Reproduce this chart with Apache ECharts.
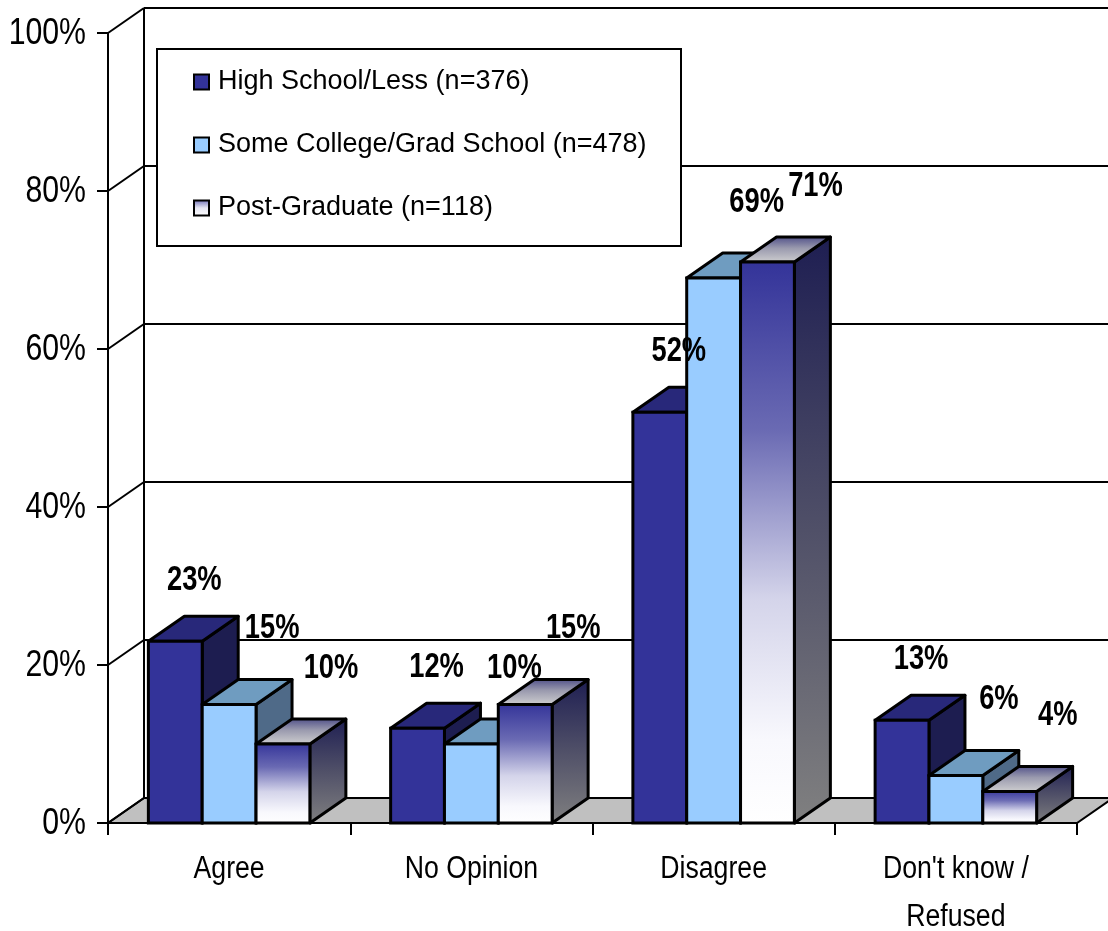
<!DOCTYPE html>
<html><head><meta charset="utf-8">
<script src="https://cdn.jsdelivr.net/npm/echarts@6/dist/echarts.min.js"></script>
<style>html,body{margin:0;padding:0;background:#fff}#c{width:1108px;height:931px}</style>
</head><body><div id="c"></div>
<script>
// ---- data ----
const categories = ['Agree', 'No Opinion', 'Disagree', "Don't know /\nRefused"];
const seriesNames = ['High School/Less (n=376)', 'Some College/Grad School (n=478)', 'Post-Graduate (n=118)'];
const highSchool = [23, 12, 52, 13];
const someCollege = [15, 10, 69, 6];
const postGrad = [10, 15, 71, 4];
const yTicks = [0, 20, 40, 60, 80, 100];

// ---- style ----
const DX = 36, DY = -25;
const FONT = '"Liberation Sans",Arial,sans-serif';
const LW = 3;
function lg(x, y, x2, y2, stops) {
  return {type: 'linear', x: x, y: y, x2: x2, y2: y2, colorStops: stops.map(s => ({offset: s[0], color: s[1]}))};
}
const faces = [
  {front: '#333399', top: '#28287a', side: '#1d1d50'},
  {front: '#99ccff', top: '#6f9cc0', side: '#4f6a88'},
  {
    front: lg(0, 0, 0, 1, [[0, '#333399'], [0.3, '#6a6ab3'], [0.6, '#d4d4ea'], [0.85, '#f8f8fd'], [1, '#ffffff']]),
    top: lg(0, 0, 0, 1, [[0, '#4a4a86'], [0.45, '#9a9aae'], [1, '#d2d2d2']]),
    side: lg(0, 0, 0, 1, [[0, '#1e1e52'], [0.5, '#505068'], [1, '#808080']])
  }
];
const labelOffset = [[19, -61], [43, -76], [48, -76]];
const valuesBySeries = [highSchool, someCollege, postGrad];

function barRender(idx) {
  return function (params, api) {
    const cat = api.value(0), val = api.value(1);
    const top = api.coord([cat, val]);
    const base = api.coord([cat, 0]);
    const band = api.size([1, 0])[0];
    const w = band * 2 / 9;
    const x0 = top[0] - 1.5 * w + idx * w, x1 = x0 + w;
    const yT = top[1], yB = base[1];
    const f = faces[idx];
    return {type: 'group', children: [
      {type: 'polygon', shape: {points: [[x1, yT], [x1 + DX, yT + DY], [x1 + DX, yB + DY], [x1, yB]]},
        style: {fill: f.side, stroke: '#000', lineWidth: LW, lineJoin: 'round'}},
      {type: 'polygon', shape: {points: [[x0, yT], [x1, yT], [x1 + DX, yT + DY], [x0 + DX, yT + DY]]},
        style: {fill: f.top, stroke: '#000', lineWidth: LW, lineJoin: 'round'}},
      {type: 'rect', shape: {x: x0, y: yT, width: w, height: yB - yT},
        style: {fill: f.front, stroke: '#000', lineWidth: LW}}
    ]};
  };
}

function frameRender(params, api) {
  const cs = params.coordSys;
  const L = cs.x, R = cs.x + cs.width;
  const v = api.value(1);
  const y = api.coord([0, v])[1];
  const ch = [];
  if (v === 0) {
    ch.push({type: 'polygon', shape: {points: [[L, y], [R, y], [R + DX, y + DY], [L + DX, y + DY]]},
      style: {fill: '#c0c0c0', stroke: '#000', lineWidth: 2}});
  }
  if (v === 100) {
    const y0 = api.coord([0, 0])[1];
    ch.push({type: 'line', shape: {x1: L + DX, y1: y + DY, x2: L + DX, y2: y0 + DY}, style: {stroke: '#000', lineWidth: 2}});
  }
  ch.push({type: 'line', shape: {x1: L, y1: y, x2: L + DX, y2: y + DY}, style: {stroke: '#000', lineWidth: 2}});
  ch.push({type: 'line', shape: {x1: L + DX, y1: y + DY, x2: R + DX + 60, y2: y + DY}, style: {stroke: '#000', lineWidth: 2}});
  // y tick label (narrow look)
  ch.push({type: 'text', x: L - 22, y: y + 1, scaleX: 0.84,
    style: {text: v + '%', fill: '#000', font: '36px ' + FONT, align: 'right', verticalAlign: 'middle'}});
  return {type: 'group', children: ch};
}

function catLabelRender(params, api) {
  const c = api.value(0);
  const p = api.coord([c, 0]);
  return {type: 'text', x: p[0], y: p[1] + 22, scaleX: 0.86,
    style: {text: categories[c], fill: '#000', font: '31px ' + FONT, lineHeight: 48, align: 'center', verticalAlign: 'top'}};
}

function labelRender(params, api) {
  const cat = api.value(0), val = api.value(1), s = api.value(2);
  const top = api.coord([cat, val]);
  const band = api.size([1, 0])[0];
  const w = band * 2 / 9;
  const cx = top[0] - 1.5 * w + s * w + w / 2;
  return {type: 'text', x: cx + labelOffset[s][0], y: top[1] + labelOffset[s][1], scaleX: 0.78,
    style: {text: val + '%', fill: '#000', font: 'bold 35px ' + FONT, align: 'center', verticalAlign: 'middle'}};
}

const labelData = [];
valuesBySeries.forEach((arr, s) => arr.forEach((v, c) => labelData.push([c, v, s])));

const series = [{
  type: 'custom', name: 'frame', z: 1, silent: true,
  data: yTicks.map(v => [0, v]), renderItem: frameRender
}, {
  type: 'custom', name: 'categoryLabels', z: 1, silent: true,
  data: categories.map((c, i) => [i, 0]), renderItem: catLabelRender
}];
valuesBySeries.forEach((arr, i) => {
  series.push({
    type: 'custom', name: seriesNames[i], z: 3,
    itemStyle: {color: i === 2 ? '#ccccee' : faces[i].front},
    data: arr.map((v, c) => [c, v]), renderItem: barRender(i)
  });
});
series.push({type: 'custom', name: 'labels', z: 5, silent: true, data: labelData, renderItem: labelRender});

const chart = echarts.init(document.getElementById('c'), null, {renderer: 'canvas'});
chart.setOption({
  animation: false,
  backgroundColor: '#fff',
  grid: {left: 108, right: 31, top: 33, bottom: 108, containLabel: false, outerBoundsMode: 'none'},
  xAxis: {
    type: 'category', data: categories, boundaryGap: true,
    axisLine: {lineStyle: {color: '#000', width: 2}},
    axisTick: {show: true, length: 12, lineStyle: {color: '#000', width: 2}},
    axisLabel: {show: false}
  },
  yAxis: {
    type: 'value', min: 0, max: 100, interval: 20,
    axisLine: {show: true, lineStyle: {color: '#000', width: 2}},
    axisTick: {show: true, length: 11, lineStyle: {color: '#000', width: 2}},
    splitLine: {show: false},
    axisLabel: {show: false}
  },
  graphic: {elements: [{type: 'rect', left: 156, top: 48, z: 2, silent: true,
    shape: {width: 524, height: 197}, style: {fill: '#fff', stroke: '#000', lineWidth: 2}}]},
  legend: {
    orient: 'vertical', left: 193, top: 67, padding: 0, z: 6,
    itemWidth: 15, itemHeight: 15, itemGap: 33, icon: 'rect',
    textStyle: {color: '#000', fontSize: 27, lineHeight: 30, fontFamily: FONT, padding: [0, 0, 0, 4]},
    data: [
      {name: seriesNames[0], itemStyle: {color: faces[0].front, borderColor: '#000', borderWidth: 2}},
      {name: seriesNames[1], itemStyle: {color: faces[1].front, borderColor: '#000', borderWidth: 2}},
      {name: seriesNames[2], itemStyle: {color: lg(0, 0, 0, 1, [[0, '#6a6ab3'], [0.5, '#e6e6f2'], [1, '#ffffff']]), borderColor: '#000', borderWidth: 2}}
    ]
  },
  series: series
});
</script></body></html>
